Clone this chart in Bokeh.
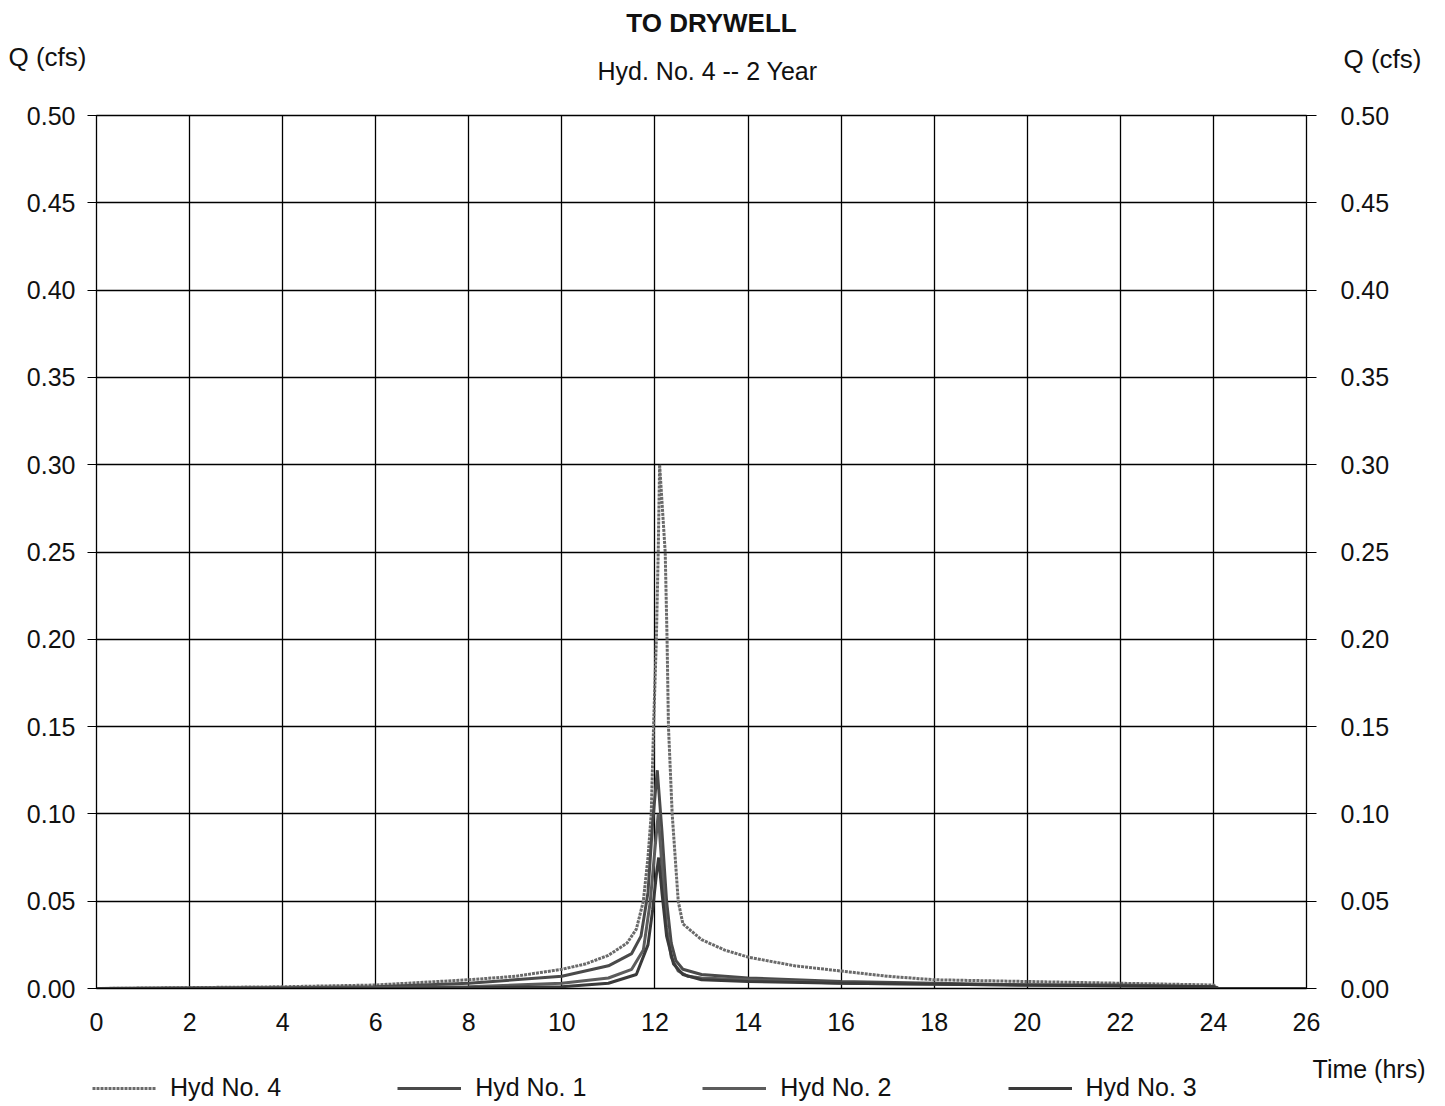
from bokeh.plotting import figure
from bokeh.layouts import column
from bokeh.models import (LinearAxis, FixedTicker, NumeralTickFormatter,
                          Legend, LegendItem, Range1d)
from bokeh.core.properties import value
from bokeh.embed import file_html
from bokeh.resources import INLINE

# ---------------- data ----------------
title_text = "TO DRYWELL"
subtitle_text = "Hyd. No. 4 -- 2 Year"
y_label = "Q (cfs)"
x_label = "Time (hrs)"

x_ticks = [0, 2, 4, 6, 8, 10, 12, 14, 16, 18, 20, 22, 24, 26]
y_ticks = [0.00, 0.05, 0.10, 0.15, 0.20, 0.25, 0.30, 0.35, 0.40, 0.45, 0.50]

# Hyd No. 4 (combined, to drywell)
hyd4_t = [0, 2, 4, 6, 8, 9, 10, 10.5, 11, 11.4, 11.6, 11.75, 11.85, 11.92, 11.97,
          12.03, 12.07, 12.1, 12.22, 12.26, 12.29, 12.37, 12.5, 12.6, 13.0, 13.5,
          14, 15, 16, 17, 18, 20, 22, 24, 24.1, 26]
hyd4_q = [0.0, 0.0005, 0.001, 0.002, 0.005, 0.007, 0.011, 0.014, 0.019, 0.026, 0.034,
          0.05, 0.075, 0.10, 0.15, 0.20, 0.25, 0.30, 0.25, 0.20, 0.15, 0.10, 0.05,
          0.037, 0.028, 0.022, 0.018, 0.013, 0.010, 0.007, 0.005, 0.004, 0.003,
          0.002, 0.0, 0.0]

# Hyd No. 1
hyd1_t = [0, 4, 6, 8, 10, 11, 11.5, 11.7, 11.85, 11.95, 12.05, 12.15, 12.25, 12.35,
          12.45, 12.6, 13, 14, 16, 18, 20, 22, 24, 24.1, 26]
hyd1_q = [0.0, 0.0005, 0.001, 0.003, 0.007, 0.013, 0.020, 0.030, 0.055, 0.095, 0.125,
          0.09, 0.05, 0.026, 0.016, 0.011, 0.008, 0.006, 0.004, 0.003, 0.002, 0.002,
          0.001, 0.0, 0.0]

# Hyd No. 2
hyd2_t = [0, 6, 8, 10, 11, 11.5, 11.75, 11.9, 12.0, 12.07, 12.15, 12.25, 12.35, 12.5,
          12.7, 13, 14, 16, 20, 24, 24.1, 26]
hyd2_q = [0.0, 0.0005, 0.001, 0.003, 0.006, 0.011, 0.022, 0.05, 0.08, 0.10, 0.07,
          0.035, 0.018, 0.010, 0.007, 0.006, 0.005, 0.003, 0.002, 0.001, 0.0, 0.0]

# Hyd No. 3
hyd3_t = [0, 6, 8, 10, 11, 11.6, 11.85, 11.95, 12.03, 12.08, 12.15, 12.25, 12.4,
          12.6, 13, 14, 16, 20, 24, 24.1, 26]
hyd3_q = [0.0, 0.0, 0.0005, 0.001, 0.003, 0.008, 0.025, 0.045, 0.065, 0.075, 0.055,
          0.03, 0.014, 0.008, 0.005, 0.004, 0.003, 0.002, 0.001, 0.0, 0.0]

series_names = ["Hyd No. 4", "Hyd No. 1", "Hyd No. 2", "Hyd No. 3"]
series_t = [hyd4_t, hyd1_t, hyd2_t, hyd3_t]
series_q = [hyd4_q, hyd1_q, hyd2_q, hyd3_q]

# ---------------- styles ----------------
FONT = "Liberation Sans"
TXT = "#111111"
W = 1440
TOP_H = 100
BOT_H = 59
MAIN_H = 1104 - TOP_H - BOT_H
FRAME_L, FRAME_R, FRAME_T, FRAME_B = 96, 1306, 115, 988
styles = [dict(line_color="#6a6a6a", line_width=3, line_dash="3 1"),
          dict(line_color="#4a4a4a", line_width=3),
          dict(line_color="#5c5c5c", line_width=3),
          dict(line_color="#3a3a3a", line_width=3)]


def blank(h):
    f = figure(width=W, height=h, output_backend="svg", toolbar_location=None,
               x_range=Range1d(0, W), y_range=Range1d(0, h),
               min_border=0, border_fill_color="white",
               background_fill_color="white", frame_align=False)
    f.axis.visible = False
    f.grid.visible = False
    f.outline_line_color = None
    return f


def txt(f, x, y, text, size, align, style="normal"):
    f.text(x=[x], y=[y], text=[text], text_font=value(FONT), text_font_size=size,
           text_font_style=style, text_align=align, text_baseline="middle",
           text_color=TXT)


# ---------------- header ----------------
top = blank(TOP_H)
txt(top, 711, TOP_H - 22, title_text, "26px", "center", "bold")
txt(top, 707, TOP_H - 70, subtitle_text, "25px", "center")
txt(top, 8, TOP_H - 56, y_label, "26px", "left")
txt(top, 1421, TOP_H - 58, y_label, "26px", "right")

# ---------------- main chart ----------------
p = figure(width=W, height=MAIN_H, output_backend="svg", toolbar_location=None,
           x_range=Range1d(0, 26), y_range=Range1d(0, 0.5),
           min_border_left=FRAME_L, min_border_right=W - FRAME_R,
           min_border_top=FRAME_T - TOP_H, min_border_bottom=TOP_H + MAIN_H - FRAME_B,
           background_fill_color="white", border_fill_color="white",
           frame_align=False)
p.outline_line_color = "black"
p.outline_line_width = 1.3

p.xaxis.ticker = FixedTicker(ticks=x_ticks)
p.yaxis.ticker = FixedTicker(ticks=y_ticks)
p.yaxis.formatter = NumeralTickFormatter(format="0.00")
for ax in p.xaxis + p.yaxis:
    ax.axis_line_color = "black"
    ax.minor_tick_line_color = None
    ax.major_label_text_font = FONT
    ax.major_label_text_font_size = "25px"
    ax.major_label_text_color = TXT
p.xaxis.major_tick_line_color = None
p.xaxis.major_label_standoff = 18
p.yaxis.major_tick_out = 9
p.yaxis.major_tick_in = 0
p.yaxis.major_tick_line_color = "black"
p.yaxis.major_label_standoff = 12

right = LinearAxis(ticker=FixedTicker(ticks=y_ticks),
                   formatter=NumeralTickFormatter(format="0.00"))
right.axis_line_color = "black"
right.minor_tick_line_color = None
right.major_tick_out = 10
right.major_tick_in = 0
right.major_label_standoff = 24
right.major_label_text_font = FONT
right.major_label_text_font_size = "25px"
right.major_label_text_color = TXT
p.add_layout(right, "right")

p.xgrid.ticker = FixedTicker(ticks=x_ticks)
p.ygrid.ticker = FixedTicker(ticks=y_ticks)
for g in (p.xgrid, p.ygrid):
    g.grid_line_color = "black"
    g.grid_line_width = 1.3
    g.grid_line_alpha = 1

for t, q, st in zip(series_t, series_q, styles):
    p.line(t, q, **st)

# ---------------- footer: x label + legend ----------------
bot = blank(BOT_H)
txt(bot, 1425, 1104 - 1068, x_label, "25px", "right")
items = []
for name, t, q, st in zip(series_names, series_t, series_q, styles):
    r = bot.line(t, q, **st)
    r.visible = False          # only its legend swatch is shown here
    items.append(LegendItem(label=name, renderers=[r]))
legend = Legend(items=items, orientation="horizontal", location=(92, 2),
                glyph_width=64, glyph_height=22, label_standoff=14, spacing=116,
                label_text_font=FONT, label_text_font_size="25px",
                label_text_color=TXT, border_line_color=None,
                background_fill_alpha=0, padding=0, margin=0,
                inactive_fill_alpha=0)
bot.add_layout(legend)

layout = column(top, p, bot, spacing=0)
open("out.html", "w").write(file_html(layout, INLINE))
